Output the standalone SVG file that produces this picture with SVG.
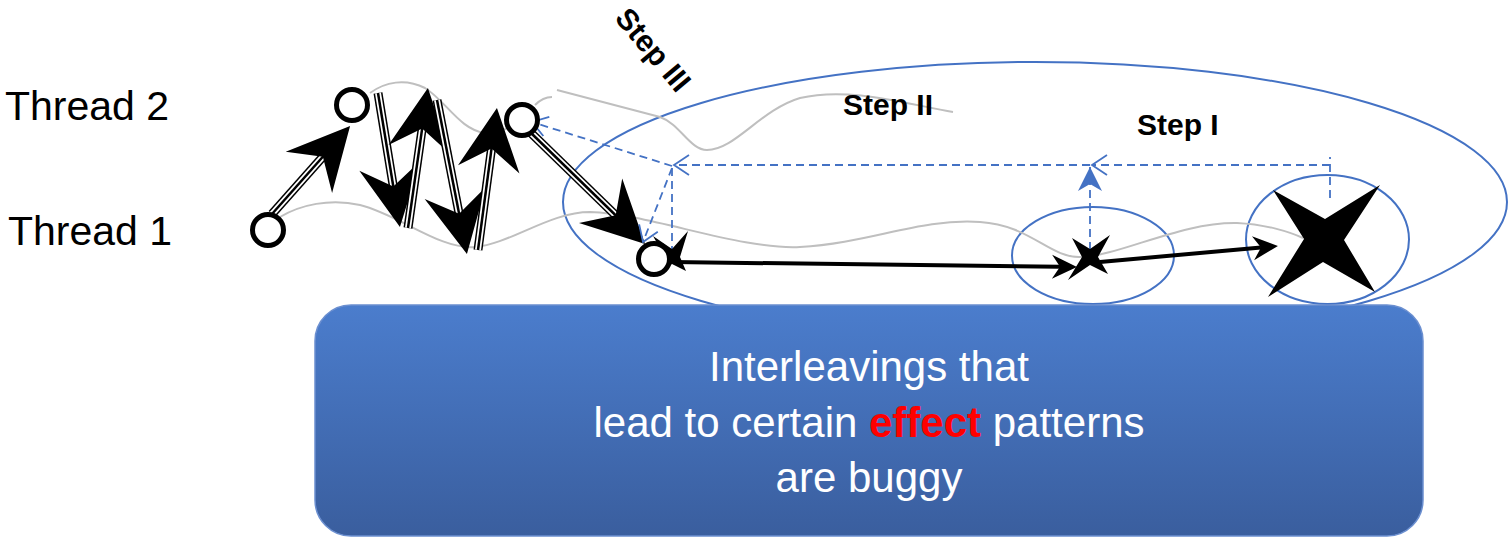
<svg xmlns="http://www.w3.org/2000/svg" width="1511" height="541" viewBox="0 0 1511 541">
<defs>
<style>
.lbl{font-family:"Liberation Sans",Arial,sans-serif;fill:#000}
.step{font-family:"Liberation Sans",Arial,sans-serif;font-weight:bold;font-size:30px;fill:#000}
.gray{fill:none;stroke:#bfbfbf;stroke-width:2}
.blue{fill:none;stroke:#4472C4;stroke-width:2}
.dash{fill:none;stroke:#4472C4;stroke-width:1.8;stroke-dasharray:8 5}
.sh1{stroke:#000;stroke-width:9}
.sh2{stroke:#fff;stroke-width:6}
.sh3{stroke:#000;stroke-width:2.5}
.node{fill:#fff;stroke:#000;stroke-width:5}
.solid{fill:none;stroke:#000;stroke-width:4}
.boxtxt{font-family:"Liberation Sans",Arial,sans-serif;font-size:42px;fill:#fff;text-anchor:middle}
</style>
<linearGradient id="boxg" x1="0" y1="0" x2="0" y2="1">
<stop offset="0" stop-color="#4b7dcd"/>
<stop offset="1" stop-color="#3a5e9e"/>
</linearGradient>
<path id="bighead" d="M0,0 L-62,-31 L-41,0 L-62,31 Z" fill="#000"/>
<marker id="blackhead" markerUnits="userSpaceOnUse" orient="auto" refX="0" refY="0" markerWidth="40" markerHeight="40" style="overflow:visible">
<path d="M17,0 L-8,-12 L0,0 L-8,12 Z" fill="#000"/>
</marker>
<marker id="openhead" markerUnits="userSpaceOnUse" orient="auto" refX="0" refY="0" markerWidth="30" markerHeight="30" style="overflow:visible">
<path d="M-15,-10 L0,0 L-15,10" fill="none" stroke="#4472C4" stroke-width="1.8"/>
</marker>
<marker id="bluehead" markerUnits="userSpaceOnUse" orient="auto" refX="0" refY="0" markerWidth="30" markerHeight="30" style="overflow:visible">
<path d="M0,0 L-24,-12 L-17,0 L-24,12 Z" fill="#4472C4"/>
</marker>
</defs>

<rect width="1511" height="541" fill="#fff"/>

<g id="regions">
<ellipse id="region-all" class="blue" cx="1035" cy="202" rx="472" ry="140"/>
<ellipse id="region-small" class="blue" cx="1093" cy="255.5" rx="81" ry="48.5"/>
<ellipse id="region-big" class="blue" cx="1327.5" cy="239.5" rx="81.5" ry="64.5"/>
</g>

<g id="threads">
<path class="gray" d="M370,93 C385,82 405,78 425,88 C445,100 460,130 485,133 C500,135 510,126 520,120"/>
<path class="gray" d="M535,105 C540,100 547,97 552,97"/>
<path class="gray" d="M557,90 L660,117 C680,124 690,150 707,150 C735,150 760,110 800,98 C850,86 910,105 953,112"/>
<path class="gray" d="M280,217 C300,205 330,198 360,205 C400,215 440,250 475,247 C510,244 550,212 590,212 C650,214 740,250 800,247 C870,243 920,218 980,222 C1030,225 1050,258 1080,257 C1120,256 1180,222 1237,223 C1265,224 1290,232 1303,238"/>
</g>

<g id="labels">
<text class="lbl" x="5" y="120" font-size="41">Thread 2</text>
<text class="lbl" x="8" y="245" font-size="41">Thread 1</text>
<text class="step" x="843" y="115">Step II</text>
<text class="step" x="1137" y="135">Step I</text>
<text class="step" text-anchor="middle" transform="translate(653,50) rotate(50)" x="0" y="10">Step III</text>
</g>

<g id="connectors">
<g transform="translate(272,214) rotate(-48.4)">
<line class="sh1" x1="0" y1="0" x2="77.6" y2="0"/><line class="sh2" x1="0" y1="0" x2="77.6" y2="0"/><line class="sh3" x1="0" y1="0" x2="77.6" y2="0"/>
<use href="#bighead" x="117.6"/>
</g>
<g transform="translate(378,93) rotate(80.7)">
<line class="sh1" x1="0" y1="0" x2="95.8" y2="0"/><line class="sh2" x1="0" y1="0" x2="95.8" y2="0"/><line class="sh3" x1="0" y1="0" x2="95.8" y2="0"/>
<use href="#bighead" x="135.8"/>
</g>
<g transform="translate(408,228) rotate(-81.9)">
<line class="sh1" x1="0" y1="0" x2="101.4" y2="0"/><line class="sh2" x1="0" y1="0" x2="101.4" y2="0"/><line class="sh3" x1="0" y1="0" x2="101.4" y2="0"/>
<use href="#bighead" x="141.4"/>
</g>
<g transform="translate(437,100) rotate(79)">
<line class="sh1" x1="0" y1="0" x2="116.9" y2="0"/><line class="sh2" x1="0" y1="0" x2="116.9" y2="0"/><line class="sh3" x1="0" y1="0" x2="116.9" y2="0"/>
<use href="#bighead" x="156.9"/>
</g>
<g transform="translate(478,250) rotate(-82.4)">
<line class="sh1" x1="0" y1="0" x2="103.3" y2="0"/><line class="sh2" x1="0" y1="0" x2="103.3" y2="0"/><line class="sh3" x1="0" y1="0" x2="103.3" y2="0"/>
<use href="#bighead" x="143.3"/>
</g>
<g transform="translate(530,132) rotate(44.2)">
<line class="sh1" x1="0" y1="0" x2="120.5" y2="0"/><line class="sh2" x1="0" y1="0" x2="120.5" y2="0"/><line class="sh3" x1="0" y1="0" x2="120.5" y2="0"/>
<use href="#bighead" x="160.5"/>
</g>
<path class="solid" d="M672,262 L1060,266.8" marker-end="url(#blackhead)"/>
<path class="solid" d="M1100,262 L1261,247.5" marker-end="url(#blackhead)"/>
<path class="dash" d="M1330,198 L1330,157"/>
<path class="dash" d="M1330,165 L1092,165" marker-end="url(#openhead)"/>
<path class="dash" d="M1090,165 L674,165" marker-end="url(#openhead)"/>
<path class="dash" d="M1090,250 L1090,167" marker-end="url(#bluehead)"/>
<path class="dash" d="M672,166 L532,122" marker-end="url(#openhead)"/>
<path class="dash" d="M672,168 L643,242" marker-end="url(#openhead)"/>
<path class="dash" d="M672,168 L672,256"/>
</g>

<g id="star-d"><path d="M653,236 L672,249 L688,231 L680,257 L686,271 L672,264 L657,276 L665,257 Z" fill="#000"/></g>
<g id="star-small"><path d="M1072,238 L1090,249 L1110,235 L1098,257 L1108,274 L1090,265 L1068,280 L1082,257 Z" fill="#000"/></g>
<g id="star-big"><path d="M1273,190 L1325,219 L1380,185 L1344,240 L1375,292 L1323,262 L1268,297 L1304,239 Z" fill="#000"/></g>

<g id="node-a"><circle class="node" cx="268" cy="230" r="15.5"/></g>
<g id="node-b"><circle class="node" cx="352" cy="105" r="15.5"/></g>
<g id="node-c"><circle class="node" cx="522" cy="120" r="15.5"/></g>
<g id="node-d"><circle class="node" cx="654" cy="259" r="15.5"/></g>

<g id="summary-box">
<rect x="315" y="305" width="1108" height="231" rx="36" ry="36" fill="url(#boxg)" stroke="#6b8fd0" stroke-width="1.5"/>
<text class="boxtxt" x="869" y="381">Interleavings that</text>
<text class="boxtxt" x="869" y="437">lead to certain <tspan fill="#ff0000" font-weight="bold">effect</tspan> patterns</text>
<text class="boxtxt" x="869" y="492">are buggy</text>
</g>
</svg>
